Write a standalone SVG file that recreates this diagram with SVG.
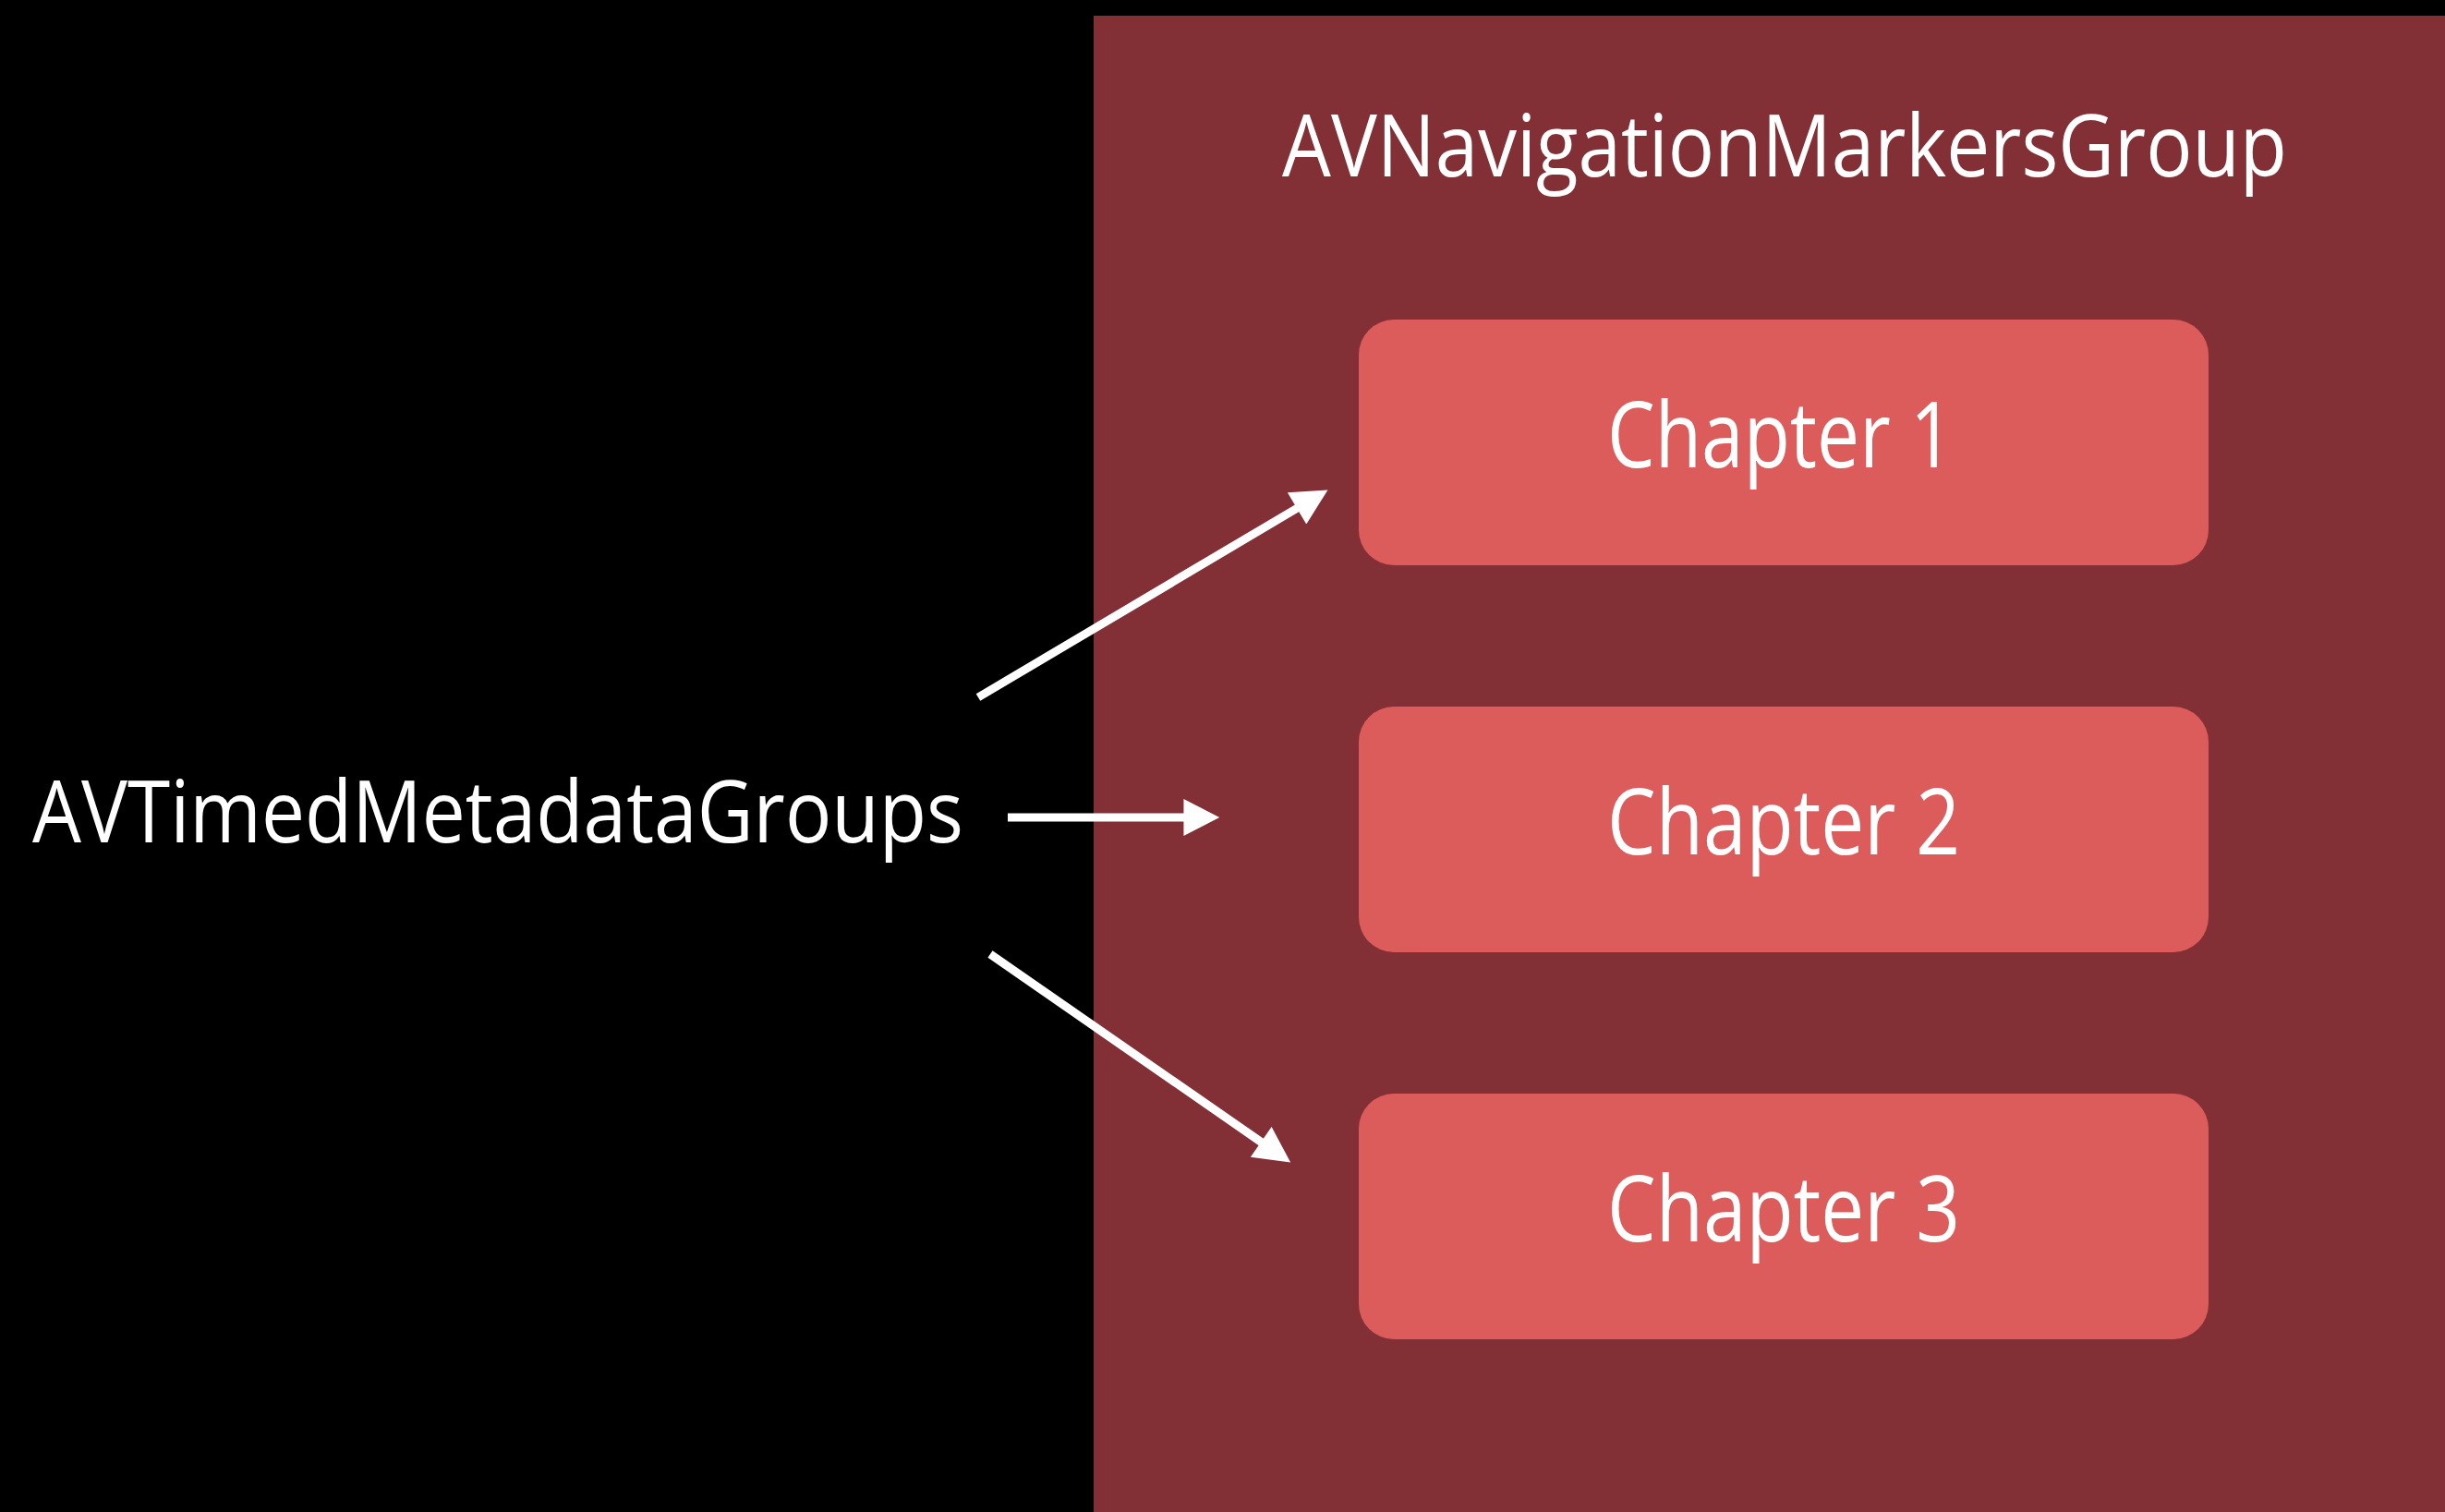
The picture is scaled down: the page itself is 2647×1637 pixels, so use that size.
<svg xmlns="http://www.w3.org/2000/svg" width="2647" height="1637" viewBox="0 0 2647 1637">
  <style>
    .lbl { font-family: "Open Sans", "Noto Sans", "Liberation Sans", sans-serif; fill: #ffffff; }
    .box { fill: #DC5B5B; }
    .conn { stroke: #ffffff; stroke-width: 9; fill: none; }
  </style>
  <defs>
    <marker id="ah" markerUnits="userSpaceOnUse" markerWidth="40" markerHeight="40" viewBox="0 0 34 35" refX="4" refY="17.5" orient="auto">
      <path d="M0,0 L34,17.5 L0,35 z" fill="#ffffff"/>
    </marker>
  </defs>
  <rect x="0" y="0" width="2647" height="1637" fill="#000000"/>
  <g id="panel">
    <rect x="1184" y="17" width="1463" height="1620" fill="#822F36"/>
    <text class="lbl" x="1388" y="191" font-size="93" textLength="1088" lengthAdjust="spacingAndGlyphs">AVNavigationMarkersGroup</text>
  </g>
  <g id="source">
    <text class="lbl" x="35" y="912" font-size="93" textLength="1008" lengthAdjust="spacingAndGlyphs">AVTimedMetadataGroups</text>
  </g>
  <g id="chapter1">
    <rect class="box" x="1471" y="346" width="920" height="266" rx="38" ry="38"/>
    <text class="lbl" x="1740" y="506" font-size="98" textLength="375" lengthAdjust="spacingAndGlyphs">Chapter 1</text>
  </g>
  <g id="chapter2">
    <rect class="box" x="1471" y="765" width="920" height="266" rx="38" ry="38"/>
    <text class="lbl" x="1740" y="925" font-size="98" textLength="382" lengthAdjust="spacingAndGlyphs">Chapter 2</text>
  </g>
  <g id="chapter3">
    <rect class="box" x="1471" y="1184" width="920" height="266" rx="38" ry="38"/>
    <text class="lbl" x="1740" y="1344" font-size="98" textLength="382" lengthAdjust="spacingAndGlyphs">Chapter 3</text>
  </g>
  <g id="connectors">
    <line class="conn" x1="1059" y1="755" x2="1408" y2="548" marker-end="url(#ah)"/>
    <line class="conn" x1="1091" y1="885" x2="1286" y2="885" marker-end="url(#ah)"/>
    <line class="conn" x1="1072" y1="1033" x2="1369" y2="1239" marker-end="url(#ah)"/>
  </g>
</svg>
